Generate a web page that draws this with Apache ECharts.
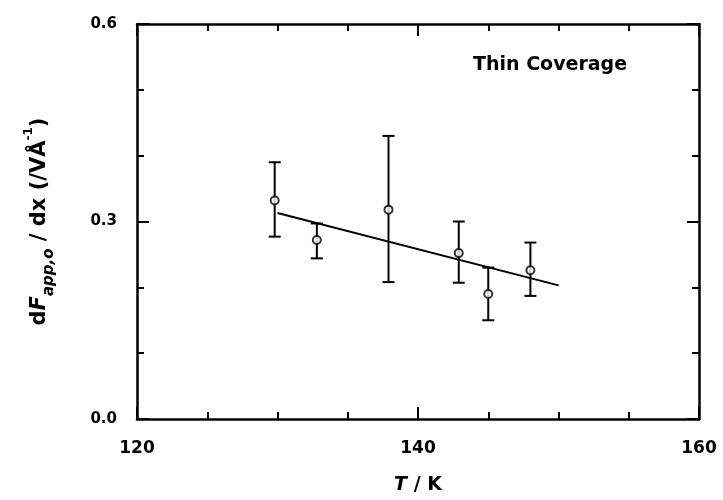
<!DOCTYPE html>
<html>
<head>
<meta charset="utf-8">
<script src="https://cdn.jsdelivr.net/npm/echarts@6/dist/echarts.min.js"></script>
<style>
  html, body { margin: 0; padding: 0; background: #fff; }
  #chart { width: 723px; height: 500px; }
</style>
</head>
<body>
<div id="chart"></div>
<script>
  // measured points (T / K) with error bars
  var temps = [129.8, 132.8, 137.9, 142.9, 145.0, 148.0];
  var values = [0.332, 0.272, 0.318, 0.252, 0.190, 0.226];
  var errHigh = [0.390, 0.297, 0.430, 0.300, 0.230, 0.268];
  var errLow = [0.277, 0.244, 0.208, 0.207, 0.150, 0.187];
  // linear fit end points
  var fitT = [130, 150];
  var fitV = [0.313, 0.203];

  var xTickLabels = [120, 140, 160];
  var yTickLabels = ['0.0', '0.3', '0.6'];

  var chart = echarts.init(document.getElementById('chart'));

  var font = 'DejaVu Sans';

  var pts = temps.map(function (t, i) { return [t, values[i]]; });
  var bars = temps.map(function (t, i) { return [t, errLow[i], errHigh[i]]; });
  var fit = fitT.map(function (t, i) { return [t, fitV[i]]; });

  var axisX = function (pos, showLabel) {
    return {
      type: 'value',
      position: pos,
      min: 120,
      max: 160,
      interval: 20,
      axisLine: { show: true, onZero: false, lineStyle: { color: '#000', width: 2.5 } },
      axisTick: { show: true, inside: true, length: 12, lineStyle: { color: '#000', width: 2 } },
      minorTick: { show: true, splitNumber: 4, length: 7, lineStyle: { color: '#000', width: 2 } },
      splitLine: { show: false },
      axisLabel: {
        show: showLabel,
        margin: 21,
        color: '#000',
        fontFamily: font,
        fontSize: 17,
        fontWeight: 'bold',
        formatter: function (v) { return xTickLabels.indexOf(v) >= 0 ? String(v) : ''; }
      }
    };
  };

  var axisY = function (pos, showLabel) {
    return {
      type: 'value',
      position: pos,
      min: 0,
      max: 0.6,
      interval: 0.3,
      axisLine: { show: true, onZero: false, lineStyle: { color: '#000', width: 2.5 } },
      axisTick: { show: true, inside: true, length: 12, lineStyle: { color: '#000', width: 2 } },
      minorTick: { show: true, splitNumber: 3, length: 7, lineStyle: { color: '#000', width: 2 } },
      splitLine: { show: false },
      axisLabel: {
        show: showLabel,
        margin: 20,
        color: '#000',
        fontFamily: font,
        fontSize: 15,
        fontWeight: 'bold',
        formatter: function (v) {
          var s = v.toFixed(1);
          return yTickLabels.indexOf(s) >= 0 ? s : '';
        }
      }
    };
  };

  var xBottom = axisX('bottom', true);
  xBottom.name = '{i|T} / K';
  xBottom.nameLocation = 'middle';
  xBottom.nameGap = 57;
  xBottom.nameTextStyle = {
    color: '#000', fontFamily: font, fontSize: 19, fontWeight: 'bold',
    rich: { i: { fontStyle: 'italic', fontWeight: 'bold', fontSize: 19, fontFamily: font } }
  };

  var yLeft = axisY('left', true);
  yLeft.name = 'd{i|F}{sub|app,o} / dx (/VÅ{sup|-1})';
  yLeft.nameLocation = 'middle';
  yLeft.nameRotate = 90;
  yLeft.nameGap = 80;
  yLeft.nameTextStyle = {
    color: '#000', fontFamily: font, fontSize: 21, fontWeight: 'bold', lineHeight: 34,
    rich: {
      i: { fontStyle: 'italic', fontWeight: 'bold', fontSize: 21, fontFamily: font },
      sub: { fontSize: 15, fontStyle: 'italic', fontWeight: 'bold', fontFamily: font, verticalAlign: 'bottom', lineHeight: 34, padding: [6, 0, 0, 0] },
      sup: { fontSize: 12, fontWeight: 'bold', fontFamily: font, verticalAlign: 'top', lineHeight: 34, padding: [0, 0, 8, 0] }
    }
  };

  chart.setOption({
    animation: false,
    backgroundColor: '#fff',
    grid: { left: 137, right: 24, top: 24, bottom: 81 },
    title: {
      text: 'Thin Coverage',
      left: 468,
      top: 51,
      textStyle: { color: '#000', fontFamily: font, fontSize: 19, fontWeight: 'bold' }
    },
    xAxis: [xBottom, axisX('top', false)],
    yAxis: [yLeft, axisY('right', false)],
    series: [
      {
        type: 'line',
        data: fit,
        symbol: 'none',
        lineStyle: { color: '#000', width: 2 },
        z: 2
      },
      {
        type: 'custom',
        data: bars,
        renderItem: function (params, api) {
          var x = api.value(0);
          var lo = api.coord([x, api.value(1)]);
          var hi = api.coord([x, api.value(2)]);
          var cap = 6;
          var style = { stroke: '#000', lineWidth: 2 };
          return {
            type: 'group',
            children: [
              { type: 'line', shape: { x1: lo[0], y1: lo[1], x2: hi[0], y2: hi[1] }, style: style },
              { type: 'line', shape: { x1: lo[0] - cap, y1: lo[1], x2: lo[0] + cap, y2: lo[1] }, style: style },
              { type: 'line', shape: { x1: hi[0] - cap, y1: hi[1], x2: hi[0] + cap, y2: hi[1] }, style: style }
            ]
          };
        },
        z: 3
      },
      {
        type: 'scatter',
        data: pts,
        symbol: 'circle',
        symbolSize: 8,
        itemStyle: { color: '#fff', borderColor: '#000', borderWidth: 2 },
        z: 4
      }
    ]
  });
</script>
</body>
</html>
